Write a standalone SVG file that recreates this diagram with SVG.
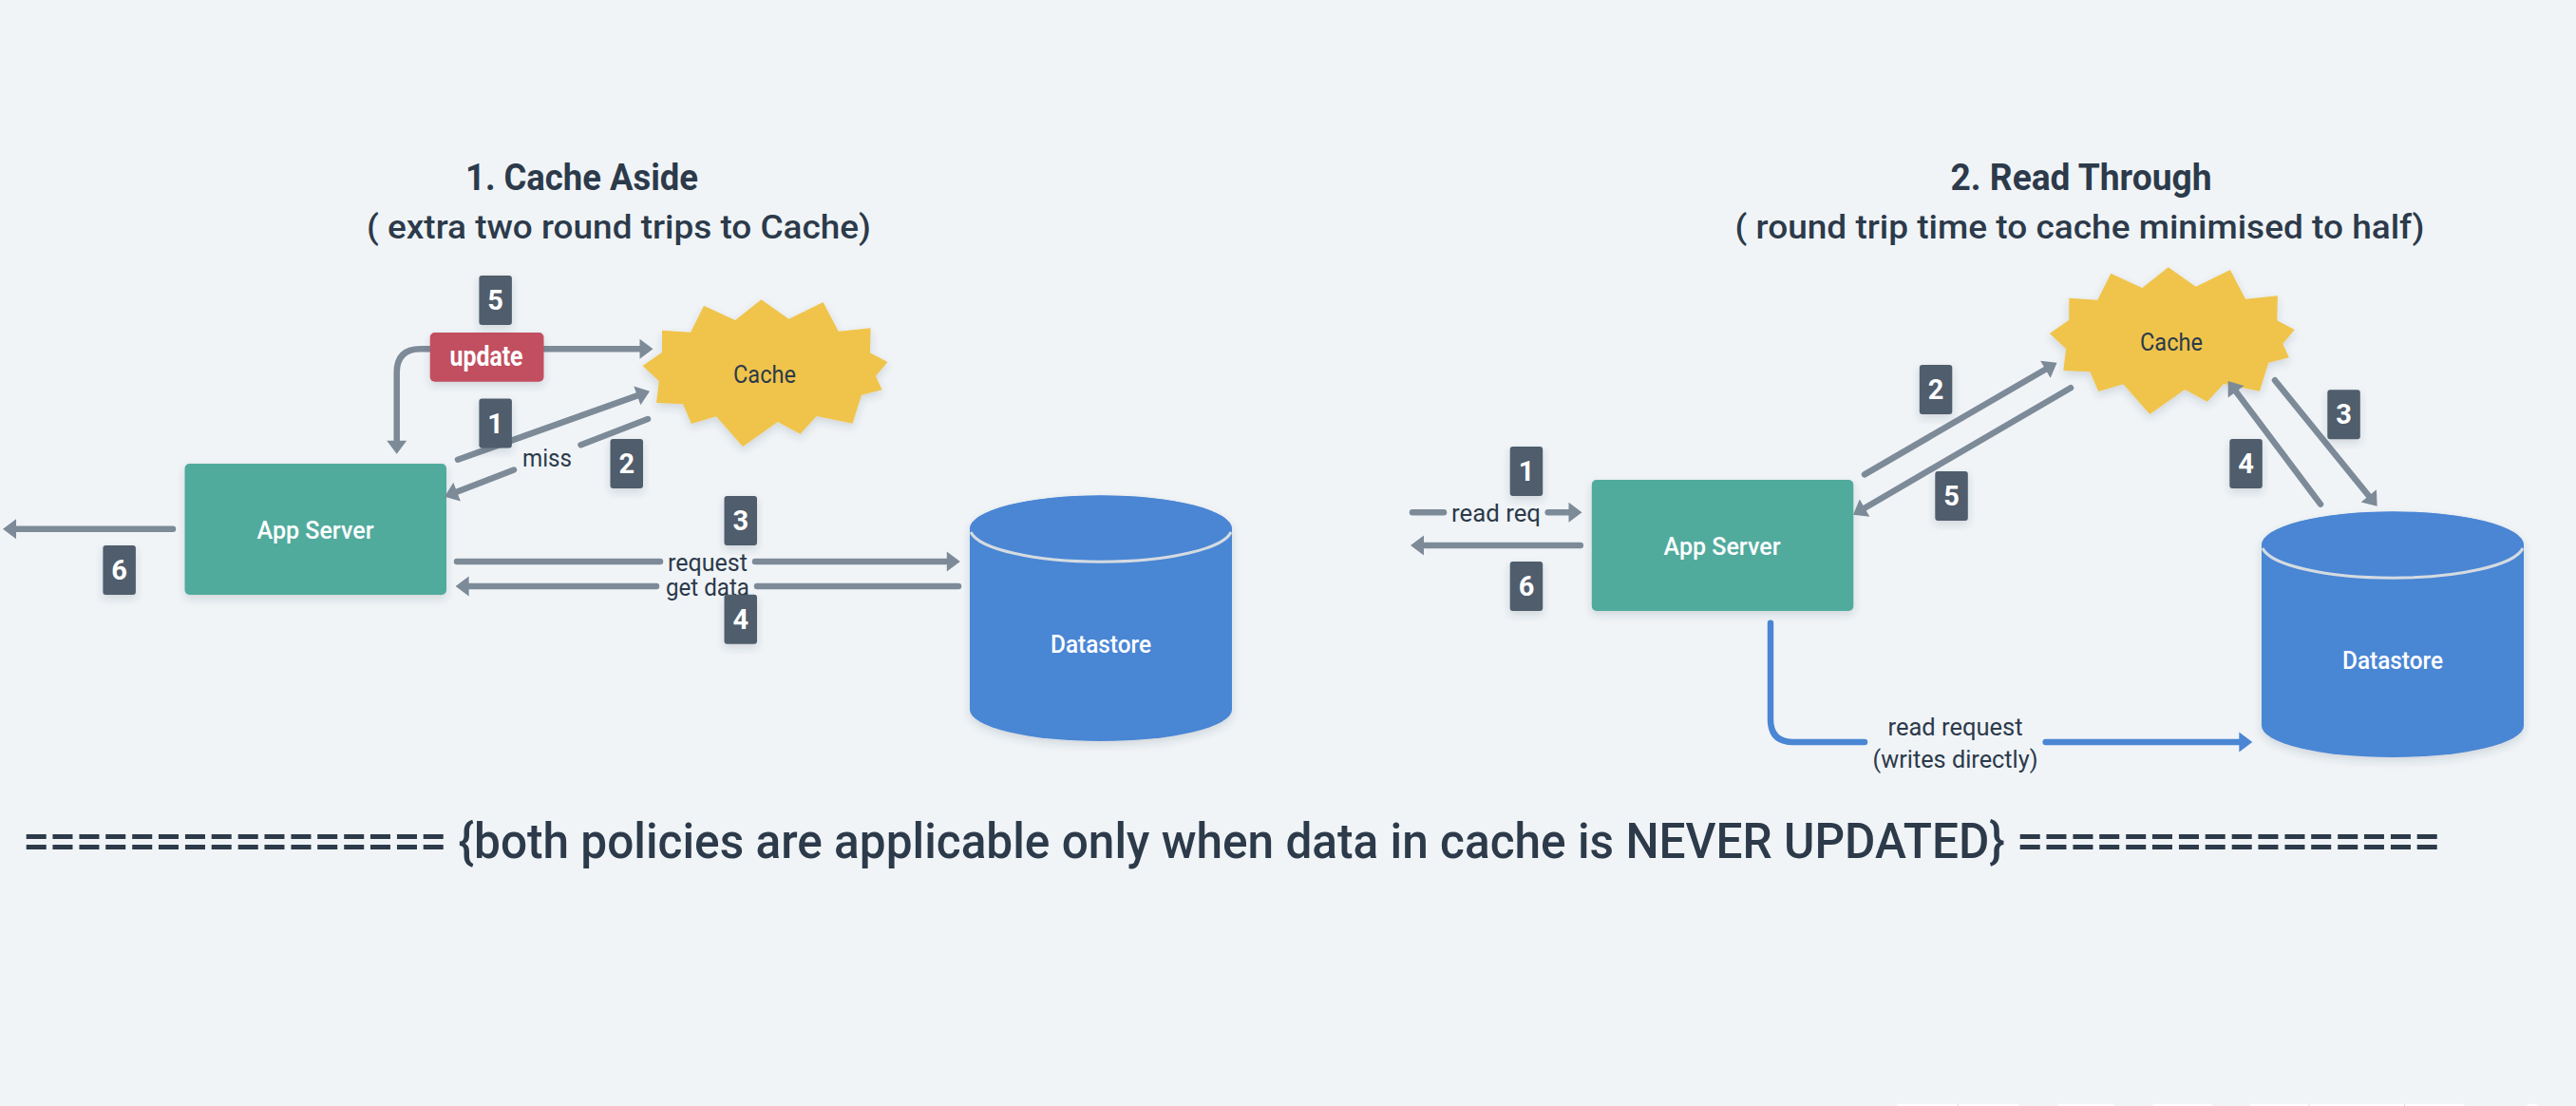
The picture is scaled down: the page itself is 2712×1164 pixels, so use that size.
<svg xmlns="http://www.w3.org/2000/svg" width="2712" height="1164" viewBox="0 0 2712 1164">
  <style>
    text { font-family: Roboto, "Liberation Sans", sans-serif; fill: #2c3a4a; text-anchor: middle; }
    .lbl { font-size: 26px; }
    .wht { fill: #ffffff; font-size: 26px; font-weight: 500; }
    .ttl { font-size: 39px; font-weight: 700; }
    .sub { font-size: 35px; font-weight: 500; }
    .num { fill: #ffffff; font-size: 29px; font-weight: 700; }
    .bdg { fill: #4f5d6c; filter: url(#sh); }
    .app { fill: #51ab9d; filter: url(#sh); }
    .cch { fill: #f0c44c; filter: url(#sh); }
    .dbb { fill: #4a86d4; filter: url(#sh); }
    .dbt { fill: #4a86d4; }
    .dbl { fill: none; stroke: #d5dbe1; stroke-width: 3; }
    .cg { fill: none; stroke: #7d8a98; stroke-width: 6.5; stroke-linecap: round; }
    .cb { fill: none; stroke: #4a86d4; stroke-width: 6.5; stroke-linecap: round; }
    .ah { marker-end: url(#ag); }
    .ab { marker-end: url(#ab); }
    .tb { fill: #ffffff; }
  </style>
  <defs>
    <filter id="sh" x="-20%" y="-20%" width="140%" height="140%">
      <feDropShadow dx="0" dy="4" stdDeviation="4" flood-color="#2c3a4a" flood-opacity="0.16"/>
    </filter>
    <marker id="ag" markerUnits="userSpaceOnUse" markerWidth="16" markerHeight="22" refX="6" refY="10.5" orient="auto" overflow="visible">
      <path d="M0 0L14 10.5L0 21z" fill="#7d8a98"/>
    </marker>
    <marker id="ab" markerUnits="userSpaceOnUse" markerWidth="16" markerHeight="22" refX="6" refY="10.5" orient="auto" overflow="visible">
      <path d="M0 0L14 10.5L0 21z" fill="#4a86d4"/>
    </marker>
    <polygon id="burst" points="676.5,385 697,370.7 697,347.7 727,349.7 741,321.7 774,337 801.5,315.3 830.5,335.7 866.6,318 882.8,348.7 916.6,345.3 916,371.3 934.5,381 922,395.7 928.6,410.3 907,415.7 897.6,445.7 859.7,438 842.5,456.7 818.8,444 782,470 754,438.3 727.9,446 719,425.3 691,424 693.8,401"/>
    <path id="drum" d="M1021 556.7V746.7A138 33.3 0 0 0 1297 746.7V556.7A138 35 0 0 0 1021 556.7z"/>
  </defs>

  <rect width="2712" height="1164" fill="#f0f4f7"/>

  <g id="titles">
    <text class="ttl" x="612.5" y="200" textLength="245" lengthAdjust="spacingAndGlyphs">1. Cache Aside</text>
    <text class="sub" x="651.5" y="251" textLength="531" lengthAdjust="spacingAndGlyphs">( extra two round trips to Cache)</text>
    <text class="ttl" x="2191" y="200" textLength="275" lengthAdjust="spacingAndGlyphs">2. Read Through</text>
    <text class="sub" x="2189.5" y="251" textLength="726" lengthAdjust="spacingAndGlyphs">( round trip time to cache minimised to half)</text>
    <text x="1296.7" y="903" font-size="52" font-weight="500" textLength="2545" lengthAdjust="spacingAndGlyphs">================ {both policies are applicable only when data in cache is NEVER UPDATED} ================</text>
  </g>

  <g id="cache-1"><use href="#burst" class="cch"/><text class="lbl" x="805" y="403" textLength="66" lengthAdjust="spacingAndGlyphs">Cache</text></g>
  <g id="app-server-1"><rect class="app" x="194.5" y="488" width="275.5" height="138" rx="5"/><text class="wht" x="332" y="567" textLength="123" lengthAdjust="spacingAndGlyphs">App Server</text></g>
  <g id="datastore-1"><use href="#drum" class="dbb"/><ellipse class="dbt" cx="1159" cy="556.7" rx="138" ry="35.5"/><path class="dbl" d="M1022 560A138 35.5 0 0 0 1296 560"/><text class="wht" x="1159" y="687" textLength="106" lengthAdjust="spacingAndGlyphs">Datastore</text></g>

  <g id="cache-2"><use href="#burst" class="cch" transform="translate(1481.3 -34)"/><text class="lbl" x="2286" y="369" textLength="66" lengthAdjust="spacingAndGlyphs">Cache</text></g>
  <g id="app-server-2"><rect class="app" x="1675.8" y="505" width="275.5" height="138" rx="5"/><text class="wht" x="1813" y="584" textLength="123" lengthAdjust="spacingAndGlyphs">App Server</text></g>
  <g id="datastore-2"><use href="#drum" class="dbb" transform="translate(1360 17)"/><ellipse class="dbt" cx="2519" cy="573.7" rx="138" ry="35.5"/><path class="dbl" d="M2382 577A138 35.5 0 0 0 2656 577"/><text class="wht" x="2519" y="704" textLength="106" lengthAdjust="spacingAndGlyphs">Datastore</text></g>

  <g id="connectors">
    <path class="cg" d="M452.7 367.3H442.7Q417.7 367.3 417.7 392.3V469.7" marker-end="url(#ag)"/>
    <path class="cg ah" d="M560 367.3H679.5"/>
    <path class="cg ah" d="M482 483.7L676.5 414.4"/>
    <path class="cg" d="M682 441L611.5 468.2"/>
    <path class="cg ah" d="M541 494.5L475.5 519.8"/>
    <path class="cg ah" d="M182 556.7H11"/>
    <path class="cg" d="M481 591H695"/>
    <path class="cg ah" d="M795 591H1002.8"/>
    <path class="cg" d="M1009 617H797"/>
    <path class="cg ah" d="M691 617H487.6"/>

    <path class="cg" d="M1487 539.3H1520"/>
    <path class="cg ah" d="M1629.7 539.3H1657.5"/>
    <path class="cg ah" d="M1663.8 574H1493"/>
    <path class="cg ah" d="M1963 499.4L2158.6 385.7"/>
    <path class="cg ah" d="M2180 408.2L1957.9 537.7"/>
    <path class="cg ah" d="M2395 400.3L2497.6 526.5"/>
    <path class="cg ah" d="M2443 530.6L2350.5 407.4"/>
    <path class="cb" d="M1864 655.7V757Q1864 781 1888 781H1963"/>
    <path class="cb ab" d="M2153.7 781H2363.3"/>
  </g>

  <g id="connector-labels">
    <text class="lbl" x="576" y="491" textLength="52" lengthAdjust="spacingAndGlyphs">miss</text>
    <text class="lbl" x="745" y="600.5" textLength="84" lengthAdjust="spacingAndGlyphs">request</text>
    <text class="lbl" x="745" y="626.5" textLength="88" lengthAdjust="spacingAndGlyphs">get data</text>
    <text class="lbl" x="1575" y="549" textLength="94" lengthAdjust="spacingAndGlyphs">read req</text>
    <text class="lbl" x="2058.5" y="774" textLength="142" lengthAdjust="spacingAndGlyphs">read request</text>
    <text class="lbl" x="2058.5" y="807.5" textLength="174" lengthAdjust="spacingAndGlyphs">(writes directly)</text>
  </g>

  <g id="update"><rect x="452.7" y="350" width="119.8" height="51.7" rx="5" fill="#c14f5e" filter="url(#sh)"/><text x="512" y="385" font-size="29" font-weight="700" style="fill:#ffffff" textLength="77" lengthAdjust="spacingAndGlyphs">update</text></g>

  <g id="badge-l5"><rect class="bdg" x="504.4" y="290" width="34.5" height="52" rx="3"/><text class="num" x="521.6" y="326">5</text></g>
  <g id="badge-l1"><rect class="bdg" x="504.4" y="419.5" width="34.5" height="52" rx="3"/><text class="num" x="521.6" y="455.5">1</text></g>
  <g id="badge-l2"><rect class="bdg" x="642.5" y="462" width="34.5" height="52" rx="3"/><text class="num" x="659.7" y="498">2</text></g>
  <g id="badge-l3"><rect class="bdg" x="762.5" y="522" width="34.5" height="52" rx="3"/><text class="num" x="779.7" y="558">3</text></g>
  <g id="badge-l4"><rect class="bdg" x="762.5" y="625.7" width="34.5" height="52" rx="3"/><text class="num" x="779.7" y="661.7">4</text></g>
  <g id="badge-l6"><rect class="bdg" x="108.4" y="574" width="34.5" height="52" rx="3"/><text class="num" x="125.6" y="610">6</text></g>
  <g id="badge-r1"><rect class="bdg" x="1589.7" y="470" width="34.5" height="52" rx="3"/><text class="num" x="1607" y="506">1</text></g>
  <g id="badge-r6"><rect class="bdg" x="1589.7" y="591" width="34.5" height="52" rx="3"/><text class="num" x="1607" y="627">6</text></g>
  <g id="badge-r2"><rect class="bdg" x="2020.8" y="384" width="34.5" height="52" rx="3"/><text class="num" x="2038" y="420">2</text></g>
  <g id="badge-r5"><rect class="bdg" x="2037.3" y="496" width="34.5" height="52" rx="3"/><text class="num" x="2054.5" y="532">5</text></g>
  <g id="badge-r4"><rect class="bdg" x="2347.3" y="462" width="34.5" height="52" rx="3"/><text class="num" x="2364.5" y="498">4</text></g>
  <g id="badge-r3"><rect class="bdg" x="2450.3" y="410.3" width="34.5" height="52" rx="3"/><text class="num" x="2467.5" y="446.3">3</text></g>

  <g id="bottom-strip">
    <rect class="tb" x="1997" y="1161.7" width="129" height="10" rx="3"/>
    <rect x="2061" y="1161.7" width="1" height="3" fill="#d5dbe1"/>
    <rect class="tb" x="2166" y="1161.7" width="60" height="10" rx="3"/>
    <rect class="tb" x="2266" y="1161.7" width="63" height="10" rx="3"/>
    <rect class="tb" x="2368" y="1161.7" width="227" height="10" rx="3"/>
    <rect x="2430.5" y="1161.7" width="1" height="3" fill="#d5dbe1"/>
    <rect x="2531" y="1161.7" width="1" height="3" fill="#d5dbe1"/>
    <circle class="tb" cx="2666" cy="1172.5" r="11"/>
  </g>
</svg>
